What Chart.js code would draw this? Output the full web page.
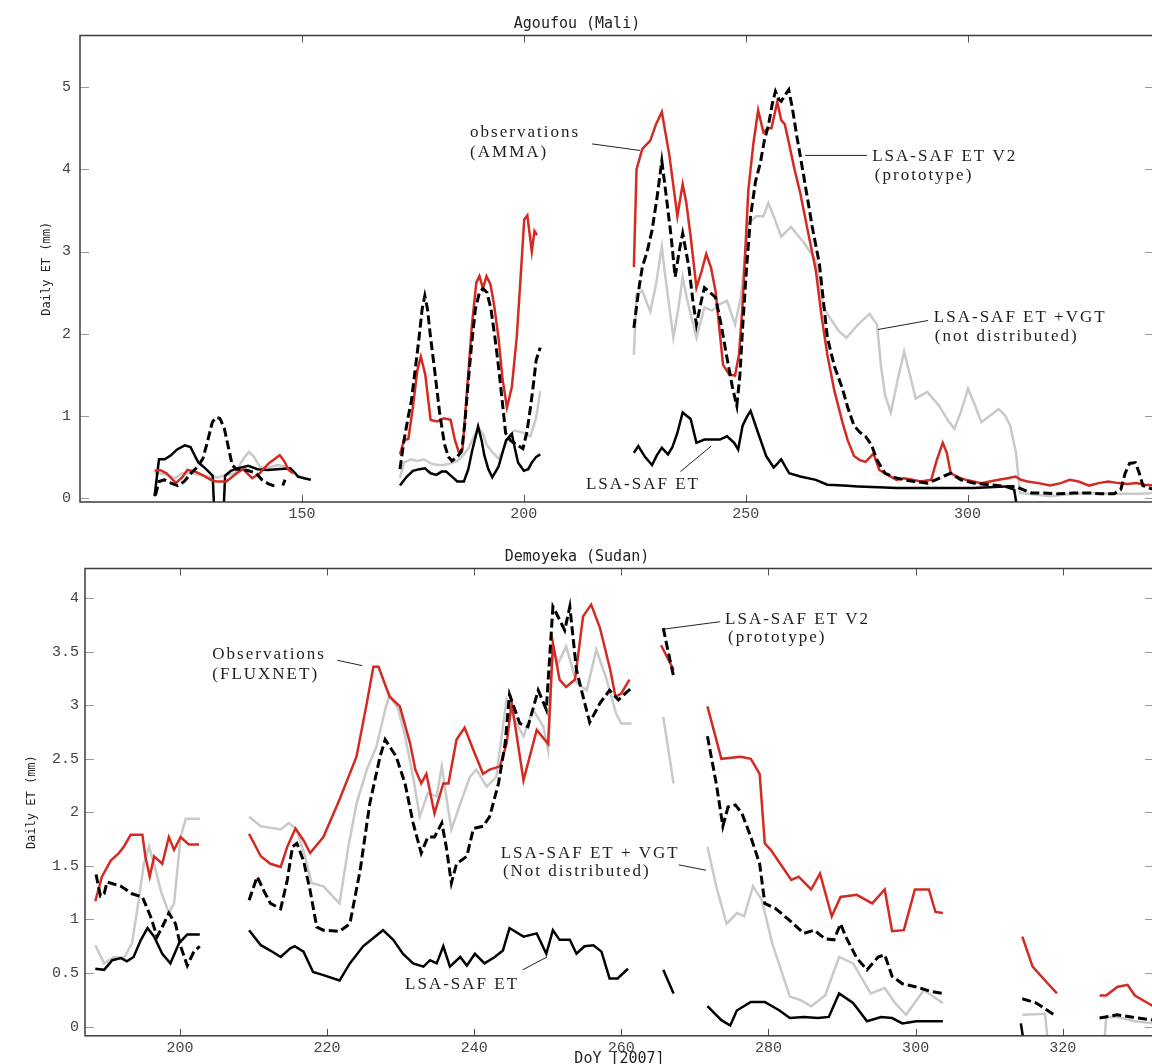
<!DOCTYPE html>
<html>
<head>
<meta charset="utf-8">
<script src="https://cdn.jsdelivr.net/npm/chart.js@4.4.1/dist/chart.umd.min.js"></script>
<style>
  html, body { margin: 0; padding: 0; background: #fff; overflow: hidden; width: 1152px; height: 1064px; }
  #top { position: absolute; left: 0; top: 0; }
  #bottom { position: absolute; left: 0; top: 530px; }
</style>
</head>
<body>
<canvas id="top" width="1154" height="530"></canvas>
<canvas id="bottom" width="1154" height="545"></canvas>
<script>
// ---- Agoufou (Mali) : [day of year, daily ET mm], null = no data
const topTicksX = [150, 200, 250, 300];
const topTicksY = [0, 1, 2, 3, 4, 5];

const topObs = [
  [116.8, 0.33], [118, 0.34], [119.5, 0.3], [121.6, 0.18], [123, 0.25], [124.2, 0.34], [126, 0.32], [127.5, 0.28],
  [129.5, 0.22], [130.7, 0.2], [133, 0.2], [135.3, 0.3], [136.7, 0.35], [138.8, 0.24], [140.5, 0.3], [142.5, 0.42],
  [145, 0.52], [146, 0.45], [147, 0.34], [148, 0.3], [160, null],
  [172.1, 0.53], [173, 0.7], [174, 0.72], [175, 1.1], [176, 1.55], [176.8, 1.72], [177.8, 1.5], [179, 0.95],
  [180.5, 0.93], [182, 0.97], [183.5, 0.95], [184.5, 0.7], [185.4, 0.55], [186.2, 0.6], [187.2, 1.3], [188.3, 2.1],
  [189.3, 2.62], [190, 2.7], [190.8, 2.55], [191.6, 2.7], [192.5, 2.6], [193.3, 2.35], [194.3, 1.95], [195.2, 1.45],
  [196.2, 1.1], [197.3, 1.35], [198.4, 1.95], [199.3, 2.7], [200.1, 3.39], [200.8, 3.44], [201.8, 3.0], [202.4, 3.25],
  [203, 3.2], [214, null],
  [224.8, 2.81], [225.4, 4.0], [226.7, 4.25], [228.5, 4.35], [229.8, 4.55], [231.1, 4.7], [232.8, 4.17], [234.6, 3.43],
  [235.8, 3.82], [236.6, 3.6], [237.6, 3.18], [238.9, 2.56], [240, 2.75], [241.1, 2.97], [242.2, 2.8], [243.2, 2.52],
  [244.9, 1.62], [246.3, 1.5], [247.6, 1.49], [248.5, 1.75], [249.3, 2.36], [250.6, 3.75], [251.7, 4.3], [252.8, 4.72],
  [254, 4.45], [255, 4.5], [255.8, 4.5], [257.1, 4.82], [258, 4.6], [258.8, 4.55], [259.7, 4.33], [261, 4.0],
  [262.3, 3.71], [264, 3.25], [265.8, 2.77], [267, 2.25], [268.4, 1.74], [270, 1.3], [271.8, 0.92], [273, 0.7],
  [274.4, 0.51], [275.7, 0.46], [277, 0.44], [278.8, 0.54], [280.1, 0.34], [282, 0.28], [284, 0.22], [285.7, 0.24],
  [287.5, 0.22], [289.5, 0.2], [291.8, 0.22], [293, 0.45], [294.4, 0.67], [295.3, 0.55], [296.2, 0.3], [298, 0.25],
  [299.6, 0.22], [301.3, 0.2], [303, 0.18], [305, 0.2], [307, 0.22], [309, 0.24], [310.8, 0.26], [312, 0.22],
  [313.5, 0.2], [316, 0.18], [318.6, 0.15], [321, 0.18], [323, 0.22], [325, 0.2], [327.4, 0.15], [329.5, 0.18],
  [331.7, 0.2], [334, 0.18], [336, 0.17], [338, 0.18], [340, 0.16], [342, 0.15]
];

const topV2 = [
  [117, 0.03], [117.8, 0.2], [119, 0.22], [120.5, 0.18], [122, 0.15], [123.5, 0.2], [125, 0.3], [126.5, 0.38],
  [127.7, 0.48], [128.8, 0.7], [129.8, 0.92], [130.6, 0.98], [131.5, 0.97], [132.5, 0.85], [133.5, 0.6], [134.3, 0.4],
  [135.2, 0.35], [136.5, 0.35], [138, 0.33], [139.7, 0.3], [141, 0.22], [142.5, 0.17], [143.5, 0.15], [144.5, 0.15],
  [145.1, null], [145.7, 0.15], [146.2, 0.22], [160, null],
  [172.1, 0.35], [173, 0.7], [174, 1.0], [174.7, 1.19], [175.5, 1.55], [176.4, 1.95], [177.1, 2.3], [177.7, 2.46],
  [178.3, 2.3], [179, 1.95], [179.9, 1.56], [181, 1.05], [182.1, 0.66], [183, 0.5], [183.8, 0.45], [185, 0.5],
  [186, 0.57], [186.7, 0.9], [187.3, 1.3], [188.2, 1.85], [189.1, 2.3], [190, 2.5], [190.8, 2.55], [191.7, 2.5],
  [192.6, 2.3], [193.5, 1.95], [194.3, 1.6], [195.1, 1.2], [195.9, 0.79], [197, 0.7], [198.3, 0.65], [199.8, 0.6],
  [200.7, 0.8], [201.5, 1.1], [202.2, 1.4], [202.8, 1.68], [203.7, 1.83], [214, null],
  [224.8, 2.07], [225.8, 2.5], [226.7, 2.81], [227.8, 3.0], [228.9, 3.26], [230, 3.65], [231.1, 4.1], [231.9, 3.76],
  [233.2, 3.18], [234.1, 2.69], [235, 3.0], [235.8, 3.22], [237.2, 2.81], [238.1, 2.4], [238.9, 2.11], [240, 2.4],
  [240.7, 2.56], [242, 2.5], [243.2, 2.44], [244.5, 2.1], [245.8, 1.7], [247, 1.35], [248, 1.12], [248.7, 1.5],
  [249.3, 2.07], [250.2, 2.8], [251.1, 3.43], [252.2, 3.85], [253.3, 4.08], [254.2, 4.35], [255.1, 4.53], [256, 4.8],
  [256.7, 4.95], [257.5, 4.85], [258, 4.83], [258.8, 4.9], [259.7, 4.97], [260.5, 4.75], [261.5, 4.41], [262.5, 4.1],
  [263.6, 3.75], [265, 3.3], [266.6, 2.85], [267.5, 2.4], [268.4, 1.95], [270, 1.6], [271.8, 1.33], [273, 1.1],
  [274.4, 0.88], [275.7, 0.8], [277, 0.75], [278.3, 0.65], [279.6, 0.46], [280.5, 0.38], [281.4, 0.3], [283.5, 0.25],
  [285.7, 0.22], [288, 0.2], [290.9, 0.18], [292.8, 0.22], [294.4, 0.26], [296.2, 0.3], [298.5, 0.22], [301.3, 0.18],
  [305, 0.16], [308.3, 0.14], [310.8, 0.14], [312.5, 0.1], [314.4, 0.06], [317, 0.06], [320.4, 0.05], [324, 0.06],
  [327.4, 0.06], [330, 0.05], [333, 0.05], [334.5, 0.1], [335.5, 0.3], [336.5, 0.42], [337.8, 0.43], [338.7, 0.3],
  [339.5, 0.15], [341, 0.12], [342, 0.1]
];

const topVgt = [
  [116.8, 0.3], [118, 0.3], [119.5, 0.28], [121.5, 0.24], [123, 0.3], [125, 0.3], [127, 0.28], [129, 0.26],
  [131, 0.25], [133, 0.28], [135, 0.3], [136.5, 0.45], [138, 0.56], [139.2, 0.5], [140.5, 0.38], [142.5, 0.37],
  [144.5, 0.4], [146.5, 0.38], [148, 0.33], [160, null],
  [172.1, 0.24], [173, 0.43], [174.5, 0.47], [176, 0.45], [177.5, 0.47], [179, 0.42], [180.5, 0.4], [182, 0.4],
  [183.5, 0.42], [185, 0.45], [186.4, 0.52], [187.5, 0.6], [189, 0.77], [189.8, 0.85], [190.8, 0.78], [191.6, 0.65],
  [193, 0.55], [194.3, 0.48], [195.5, 0.6], [196.9, 0.77], [198, 0.82], [199.5, 0.8], [201.5, 0.75], [202.8, 0.98],
  [203.7, 1.3], [214, null],
  [224.8, 1.74], [225.4, 2.48], [226.7, 2.52], [228.5, 2.27], [229.8, 2.6], [231.1, 3.06], [231.9, 2.69], [233.7, 1.95],
  [234.8, 2.3], [235.8, 2.69], [236.7, 2.44], [238.9, 1.95], [240.7, 2.32], [242.4, 2.28], [244.2, 2.36], [245.8, 2.4],
  [247.6, 2.11], [248.9, 2.44], [250.6, 3.34], [252.4, 3.43], [254, 3.43], [255.1, 3.59], [256.3, 3.43], [258, 3.18],
  [260.2, 3.3], [263.2, 3.1], [265.8, 2.89], [267.5, 2.32], [269.5, 2.15], [271, 2.03], [272.7, 1.95], [275.3, 2.11],
  [277.9, 2.24], [279.6, 2.11], [280.5, 1.6], [281.4, 1.25], [282.7, 1.04], [284.3, 1.45], [285.7, 1.78], [287, 1.5],
  [288.3, 1.21], [290.9, 1.29], [293.6, 1.12], [295.5, 0.95], [297, 0.84], [298.5, 1.05], [300.1, 1.33], [301.5, 1.15],
  [303.1, 0.92], [305, 1.0], [307, 1.08], [308.5, 1.0], [309.6, 0.88], [310.9, 0.55], [311.8, 0.06], [315, 0.04],
  [318.6, 0.02], [322, 0.04], [327.4, 0.06], [332, 0.05], [336, 0.05], [339, 0.05], [342, 0.06]
];

const topEt = [
  [116.8, 0.02], [117.8, 0.47], [119.1, 0.47], [120.5, 0.52], [121.9, 0.59], [123.6, 0.64], [124.9, 0.62], [126, 0.5],
  [126.7, 0.43], [127.8, 0.38], [128.8, 0.33], [129.9, 0.27], [130.2, -0.1], [132.4, -0.1], [132.7, 0.27], [134, 0.33],
  [135.5, 0.36], [137.9, 0.39], [140, 0.35], [142.2, 0.34], [144.5, 0.35], [147.4, 0.36], [148.5, 0.3], [149.1, 0.26],
  [150.5, 0.24], [152, 0.22], [160, null],
  [172.1, 0.15], [173.5, 0.25], [175, 0.33], [176.5, 0.35], [177.7, 0.36], [179, 0.3], [180.3, 0.28], [181.5, 0.32],
  [182.5, 0.32], [184, 0.25], [185, 0.2], [186.5, 0.2], [187.5, 0.35], [188.3, 0.56], [189.7, 0.87], [190.5, 0.7],
  [191.1, 0.52], [192, 0.35], [192.9, 0.25], [194.3, 0.38], [195.2, 0.55], [196, 0.7], [197.3, 0.78], [198, 0.6],
  [198.7, 0.43], [200, 0.33], [201, 0.35], [201.8, 0.43], [202.8, 0.5], [203.7, 0.53], [214, null],
  [224.8, 0.55], [225.8, 0.63], [227.3, 0.5], [228.9, 0.4], [230, 0.52], [231.1, 0.61], [232.5, 0.53], [233.5, 0.62],
  [234.6, 0.79], [235.8, 1.04], [236.7, 1.0], [237.6, 0.96], [238.9, 0.67], [240.7, 0.71], [242.4, 0.71], [244.2, 0.71],
  [245.8, 0.75], [247.4, 0.67], [248.3, 0.59], [249.3, 0.88], [250.2, 0.98], [251.1, 1.06], [252.8, 0.79], [254.6, 0.51],
  [256.3, 0.37], [257.2, 0.42], [258, 0.47], [259.8, 0.3], [262.3, 0.26], [265.8, 0.22], [268.4, 0.16], [272, 0.15],
  [275.3, 0.14], [280, 0.13], [284, 0.12], [288, 0.12], [292.6, 0.12], [297, 0.12], [301.3, 0.12], [305, 0.13],
  [308.3, 0.14], [310.5, 0.1], [311.1, -0.1]
];

// ---- Demoyeka (Sudan)
const botTicksX = [200, 220, 240, 260, 280, 300, 320];
const botTicksY = [0, 0.5, 1, 1.5, 2, 2.5, 3, 3.5, 4];

const botObs = [
  [188.5, 1.17], [189.4, 1.4], [190.6, 1.55], [191.7, 1.62], [192.4, 1.68], [193.3, 1.79], [194.9, 1.79], [195.3, 1.59],
  [195.9, 1.4], [196.5, 1.59], [197.6, 1.52], [198.5, 1.77], [199.2, 1.65], [200.1, 1.77], [201.2, 1.7], [202.6, 1.7],
  [206, null],
  [209.4, 1.8], [211, 1.59], [212.3, 1.52], [213.7, 1.49], [214.6, 1.68], [215.7, 1.85], [216.8, 1.74], [217.7, 1.62],
  [219.5, 1.77], [221.7, 2.12], [224, 2.52], [225.4, 3.02], [226.3, 3.36], [227, 3.36], [228.5, 3.08], [229.9, 2.99],
  [231.3, 2.64], [232, 2.4], [232.8, 2.27], [233.5, 2.36], [234.6, 1.99], [235.8, 2.27], [236.5, 2.27], [237.6, 2.68],
  [238.7, 2.79], [239.9, 2.58], [241.2, 2.36], [242.1, 2.4], [243.5, 2.43], [244.4, 2.64], [245.1, 3.02], [246.7, 2.3],
  [248.5, 2.77], [250.05, 2.64], [250.7, 3.58], [251.6, 3.24], [252.5, 3.17], [253.7, 3.24], [254.8, 3.83], [255.9, 3.94],
  [257.1, 3.72], [258.5, 3.33], [259.2, 3.08], [260, 3.11], [261.1, 3.24], [263, null],
  [265.4, 3.56], [267.1, 3.33], [269, null],
  [271.7, 2.99], [273.6, 2.5], [276.2, 2.52], [277.6, 2.5], [278.8, 2.36], [279.5, 1.71], [280.3, 1.65], [281.9, 1.49],
  [283.1, 1.37], [284.1, 1.4], [285.8, 1.28], [287, 1.43], [288.6, 1.03], [289.8, 1.21], [292, 1.23], [294.1, 1.15],
  [295.8, 1.28], [296.8, 0.89], [298.4, 0.9], [299.9, 1.28], [301.8, 1.28], [302.7, 1.07], [303.7, 1.06], [309, null],
  [314.5, 0.84], [315.9, 0.56], [317.6, 0.43], [319.2, 0.31], [322, null],
  [325, 0.29], [325.9, 0.29], [327.4, 0.37], [328.8, 0.39], [329.8, 0.29], [332.3, 0.19]
];

const botV2 = [
  [188.6, 1.42], [189.2, 1.22], [189.7, 1.24], [190.1, 1.35], [192, 1.31], [193.5, 1.24], [194.9, 1.21], [196, 1.03],
  [196.9, 0.84], [197.6, 0.93], [198.5, 1.06], [199.4, 0.96], [200.1, 0.75], [201, 0.57], [201.9, 0.7], [202.7, 0.75],
  [206, null],
  [209.4, 1.18], [210.5, 1.4], [211.4, 1.27], [212.3, 1.15], [213.7, 1.1], [214.6, 1.37], [215.3, 1.68], [215.9, 1.71],
  [216.8, 1.55], [217.7, 1.27], [218.6, 0.93], [219.5, 0.9], [221.7, 0.89], [223.1, 0.96], [224.5, 1.46], [225.8, 2.08],
  [227.2, 2.52], [227.9, 2.68], [229.4, 2.52], [230.6, 2.27], [231.7, 1.9], [232.8, 1.62], [233.7, 1.77], [234.6, 1.77],
  [235.6, 1.9], [236.2, 1.68], [236.9, 1.34], [237.6, 1.52], [239, 1.59], [239.9, 1.85], [241.2, 1.87], [242.1, 1.96],
  [243.3, 2.27], [244.2, 2.64], [244.8, 3.1], [246.2, 2.83], [247.3, 2.8], [248.7, 3.14], [249.8, 2.96], [250.7, 3.92],
  [251.6, 3.8], [252.3, 3.7], [253, 3.92], [253.9, 3.33], [254.8, 3.08], [255.7, 2.84], [257.1, 3.02], [258.4, 3.14],
  [259.6, 3.05], [260.7, 3.12], [261.2, 3.15], [263, null],
  [265.7, 3.72], [266.4, 3.49], [267.1, 3.27], [269, null],
  [271.7, 2.71], [272.9, 2.27], [273.8, 1.87], [274.5, 2.05], [275.5, 2.07], [276.4, 1.99], [277.6, 1.77], [278.8, 1.52],
  [279.5, 1.15], [281, 1.1], [282.9, 0.99], [284.8, 0.87], [286.2, 0.9], [287.7, 0.82], [288.9, 0.81], [289.8, 0.96],
  [290.5, 0.84], [292, 0.64], [293.4, 0.53], [294.9, 0.65], [295.8, 0.67], [296.8, 0.47], [298.2, 0.4], [300.1, 0.37],
  [302, 0.33], [303.7, 0.31], [309, null],
  [314.5, 0.26], [316.4, 0.22], [318.8, 0.11], [322, null],
  [325, 0.08], [327.4, 0.11], [329.3, 0.09], [332.3, 0.06]
];

const botVgt = [
  [188.5, 0.76], [189.7, 0.59], [191, 0.65], [192.4, 0.64], [193.5, 0.78], [194.4, 1.18], [195.1, 1.52], [195.8, 1.68],
  [196.5, 1.52], [197.4, 1.27], [198.5, 1.06], [199.2, 1.15], [200.1, 1.77], [200.8, 1.94], [202.7, 1.94], [206, null],
  [209.4, 1.96], [211, 1.87], [213.7, 1.84], [214.8, 1.9], [215.9, 1.84], [217, 1.59], [217.9, 1.34], [219.5, 1.31],
  [221.7, 1.15], [222.9, 1.68], [224, 2.08], [225.4, 2.4], [226.7, 2.61], [227.9, 2.96], [228.5, 3.1], [229.7, 2.96],
  [230.6, 2.71], [231.7, 2.33], [232.6, 1.96], [233.7, 2.18], [234.9, 2.15], [235.6, 2.43], [236.2, 2.15], [236.9, 1.84],
  [238.1, 2.08], [239.4, 2.33], [240.3, 2.4], [241.7, 2.24], [243, 2.33], [244.4, 3.05], [245.3, 2.89], [246.7, 2.71],
  [248, 2.96], [249.4, 2.8], [250.05, 2.58], [250.7, 3.55], [251.4, 3.39], [252.5, 3.55], [253.9, 3.21], [255.3, 3.14],
  [256.6, 3.52], [258, 3.24], [259.3, 2.92], [260, 2.83], [261.4, 2.83], [263, null],
  [265.7, 2.89], [266.4, 2.58], [267.1, 2.27], [269, null],
  [271.7, 1.68], [272.9, 1.31], [274.3, 0.96], [275.7, 1.06], [276.7, 1.03], [277.9, 1.31], [279.1, 1.18], [280.5, 0.78],
  [282.9, 0.28], [284.3, 0.25], [285.8, 0.19], [287.7, 0.29], [289.6, 0.65], [291.5, 0.59], [293.9, 0.31], [295.8, 0.36],
  [297.2, 0.22], [298.7, 0.11], [301.1, 0.34], [303.7, 0.22], [309, null],
  [314.5, 0.11], [317.6, 0.12], [317.9, -0.1], [322, null],
  [325.7, -0.1], [325.9, 0.09], [327.4, 0.09], [329.8, 0.05], [332.3, 0.03]
];

const botEt = [
  [188.5, 0.54], [189.7, 0.53], [190.8, 0.62], [192, 0.64], [192.8, 0.61], [193.7, 0.65], [194.7, 0.81], [195.6, 0.92],
  [196.5, 0.84], [197.6, 0.68], [198.7, 0.59], [199.9, 0.78], [201, 0.86], [202.7, 0.86], [206, null],
  [209.4, 0.9], [211, 0.76], [212.3, 0.71], [213.7, 0.65], [215, 0.73], [215.6, 0.75], [216.8, 0.7], [218.1, 0.51],
  [219.5, 0.48], [221.7, 0.43], [223.1, 0.59], [224.9, 0.75], [227.6, 0.9], [229, 0.81], [230.3, 0.68], [231.7, 0.59],
  [233.1, 0.56], [234, 0.62], [234.9, 0.59], [235.8, 0.75], [236.7, 0.56], [238.1, 0.65], [239, 0.57], [240.1, 0.68],
  [241.4, 0.59], [242.8, 0.65], [243.9, 0.71], [244.8, 0.92], [246.7, 0.84], [248.5, 0.87], [249.8, 0.68], [250.7, 0.9],
  [251.6, 0.81], [253, 0.81], [253.9, 0.68], [255, 0.75], [256.2, 0.76], [257.3, 0.7], [258.4, 0.45], [259.5, 0.45],
  [260.9, 0.54], [263, null],
  [265.7, 0.53], [267.1, 0.31], [269, null],
  [271.7, 0.19], [273.6, 0.06], [274.8, 0.01], [275.7, 0.15], [277.6, 0.23], [279.5, 0.23], [281.5, 0.15], [282.9, 0.08],
  [284.8, 0.09], [286.7, 0.08], [288.2, 0.09], [289.6, 0.31], [291.5, 0.22], [293.4, 0.05], [295.3, 0.09], [296.8, 0.08],
  [298.2, 0.03], [300.1, 0.05], [302, 0.05], [303.7, 0.05], [309, null],
  [314.3, 0.03], [314.6, -0.1]
];

// annotations: text lines, anchor [day, ET] per line, leader line in data units
const topNotes = [
  { lines: ['observations', '(AMMA)'], at: [[187.9, 4.45], [187.9, 4.21]], lead: [[215.4, 4.31], [226.2, 4.23]] },
  { lines: ['LSA-SAF ET V2', '(prototype)'], at: [[278.5, 4.16], [279.1, 3.92]], lead: [[263.4, 4.17], [277.3, 4.17]] },
  { lines: ['LSA-SAF ET +VGT', '(not distributed)'], at: [[292.4, 2.19], [292.6, 1.96]], lead: [[279.8, 2.05], [291.1, 2.16]] },
  { lines: ['LSA-SAF ET'], at: [[214.0, 0.16]], lead: [[235.3, 0.32], [242.2, 0.63]] }
];
const botNotes = [
  { lines: ['Observations', '(FLUXNET)'], at: [[204.4, 3.47], [204.4, 3.29]], lead: [[221.4, 3.42], [224.8, 3.37]] },
  { lines: ['LSA-SAF ET V2', '(prototype)'], at: [[274.1, 3.8], [274.5, 3.63]], lead: [[265.7, 3.71], [273.4, 3.78]] },
  { lines: ['LSA-SAF ET + VGT', '(Not distributed)'], at: [[243.6, 1.62], [243.9, 1.45]], lead: [[267.8, 1.51], [271.5, 1.46]] },
  { lines: ['LSA-SAF ET'], at: [[230.6, 0.39]], lead: [[246.6, 0.53], [249.9, 0.65]] }
];

const RED = '#d42a22';
const GREY = '#c9c9c9';

const toPoints = (rows) => rows.map(([d, v]) => ({ x: d, y: v }));

// box round the plot with inward tick marks on all four sides
const framePlugin = {
  id: 'frame',
  afterDatasetsDraw(chart) {
    const { ctx, chartArea: { left, right, top, bottom }, scales: { x, y } } = chart;
    ctx.save();
    ctx.lineWidth = 1;
    ctx.strokeStyle = '#555';
    ctx.beginPath();
    x.ticks.forEach((t) => {
      const px = Math.round(x.getPixelForValue(t.value)) + 0.5;
      ctx.moveTo(px, top); ctx.lineTo(px, top + 7);
      ctx.moveTo(px, bottom); ctx.lineTo(px, bottom - 7);
    });
    ctx.stroke();
    ctx.strokeStyle = '#999';
    ctx.beginPath();
    y.ticks.forEach((t) => {
      const py = Math.round(y.getPixelForValue(t.value)) + 0.5;
      ctx.moveTo(left, py); ctx.lineTo(left + 9, py);
      ctx.moveTo(right, py); ctx.lineTo(right - 9, py);
    });
    ctx.stroke();
    ctx.strokeStyle = '#3c3c3c';
    ctx.lineWidth = 1.5;
    ctx.strokeRect(left, top, right - left, bottom - top);
    ctx.restore();
  }
};

// serif labels with leader lines
const notesPlugin = {
  id: 'notes',
  afterDatasetsDraw(chart, args, opts) {
    const { ctx, scales: { x, y } } = chart;
    ctx.save();
    ctx.font = '17px "Liberation Serif", "Times New Roman", serif';
    ctx.fillStyle = '#1e1e1e';
    ctx.textBaseline = 'middle';
    if ('letterSpacing' in ctx) ctx.letterSpacing = '2px';
    ctx.strokeStyle = '#222';
    ctx.lineWidth = 1;
    opts.items.forEach((n) => {
      n.lines.forEach((line, i) => {
        ctx.fillText(line, x.getPixelForValue(n.at[i][0]), y.getPixelForValue(n.at[i][1]));
      });
      ctx.beginPath();
      ctx.moveTo(x.getPixelForValue(n.lead[0][0]), y.getPixelForValue(n.lead[0][1]));
      ctx.lineTo(x.getPixelForValue(n.lead[1][0]), y.getPixelForValue(n.lead[1][1]));
      ctx.stroke();
    });
    ctx.restore();
  }
};

function series(rows, color, width, dash, order) {
  return {
    data: toPoints(rows),
    borderColor: color,
    borderWidth: width,
    borderDash: dash,
    pointRadius: 0,
    tension: 0,
    spanGaps: false,
    order: order
  };
}

function makePanel(id, o) {
  const tickFont = { family: '"Liberation Mono", "Courier New", monospace', size: 15 };
  return new Chart(document.getElementById(id), {
    type: 'line',
    data: {
      datasets: [
        series(o.v2, '#000', 3, [9, 4], 0),
        series(o.obs, RED, 2.5, [], 1),
        series(o.et, '#000', 2.5, [], 2),
        series(o.vgt, GREY, 2.5, [], 3)
      ]
    },
    options: {
      responsive: false,
      animation: false,
      devicePixelRatio: 1,
      layout: { padding: 0 },
      plugins: {
        legend: { display: false },
        tooltip: { enabled: false },
        title: {
          display: true,
          text: o.title,
          color: '#222',
          font: { family: '"DejaVu Sans Mono", monospace', size: 15, weight: 'normal' },
          padding: { top: o.titleTop, bottom: 2.5 }
        },
        notes: { items: o.notes }
      },
      scales: {
        x: {
          type: 'linear',
          min: o.xMin,
          max: o.xMax,
          grid: { display: false, drawTicks: false },
          border: { display: false },
          afterBuildTicks: (s) => { s.ticks = o.ticksX.map((v) => ({ value: v })); },
          afterFit: (s) => { s.height = o.xHeight; },
          ticks: { color: '#444', font: tickFont, padding: 3, maxRotation: 0, callback: (v) => String(v) },
          title: o.xTitle ? {
            display: true,
            text: o.xTitle,
            color: '#222',
            font: { family: '"DejaVu Sans Mono", monospace', size: 15 },
            padding: { top: 0, bottom: 6.5 }
          } : { display: false }
        },
        y: {
          min: o.yMin,
          max: o.yMax,
          grid: { display: false, drawTicks: false },
          border: { display: false },
          afterBuildTicks: (s) => { s.ticks = o.ticksY.map((v) => ({ value: v })); },
          afterFit: (s) => { s.width = o.yWidth; },
          ticks: { color: '#444', font: tickFont, padding: o.yPad, callback: (v) => String(v) },
          title: {
            display: true,
            text: 'Daily ET (mm)',
            color: '#222',
            font: { family: '"DejaVu Sans Mono", monospace', size: 12 },
            padding: { top: o.yTitlePad, bottom: 0 }
          }
        }
      }
    },
    plugins: [framePlugin, notesPlugin]
  });
}

makePanel('top', {
  title: 'Agoufou (Mali)', titleTop: 15,
  obs: topObs, v2: topV2, vgt: topVgt, et: topEt, notes: topNotes,
  xMin: 100, xMax: 342, yMin: -0.05, yMax: 5.63,
  ticksX: topTicksX, ticksY: topTicksY,
  xHeight: 28, yWidth: 80, yPad: 9, yTitlePad: 40
});

makePanel('bottom', {
  title: 'Demoyeka (Sudan)', titleTop: 18,
  obs: botObs, v2: botV2, vgt: botVgt, et: botEt, notes: botNotes,
  xMin: 187.1, xMax: 332.4, yMin: -0.086, yMax: 4.277,
  ticksX: botTicksX, ticksY: botTicksY,
  xHeight: 39.2, yWidth: 85, yPad: 6, yTitlePad: 25,
  xTitle: 'DoY [2007]'
});
</script>
</body>
</html>
